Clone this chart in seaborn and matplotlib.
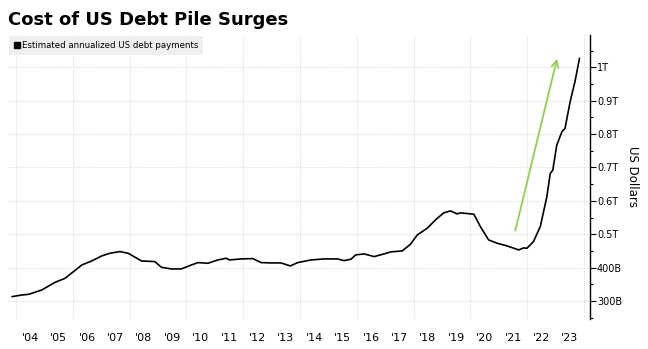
import matplotlib
matplotlib.use("Agg")
import matplotlib.pyplot as plt
from matplotlib.lines import Line2D
from matplotlib.ticker import FixedLocator, FuncFormatter, MultipleLocator
import seaborn as sns
import pandas as pd

# ---- data (decimal year, billions of US dollars) ----
years = [2003.86, 2004.21, 2004.45, 2004.91, 2005.38, 2005.73, 2006.32, 2006.67,
         2007.02, 2007.31, 2007.66, 2007.95, 2008.42, 2008.89, 2009.12, 2009.47,
         2009.82, 2010.18, 2010.41, 2010.76, 2011.11, 2011.40, 2011.52, 2011.93,
         2012.34, 2012.63, 2012.98, 2013.33, 2013.66, 2013.92, 2014.39, 2014.85,
         2015.32, 2015.55, 2015.79, 2015.96, 2016.26, 2016.61, 2016.96, 2017.19,
         2017.60, 2017.89, 2018.13, 2018.48, 2018.77, 2019.06, 2019.30, 2019.53,
         2019.65, 2020.12, 2020.35, 2020.64, 2020.94, 2021.29, 2021.70, 2021.87,
         2021.99, 2022.22, 2022.46, 2022.69, 2022.81, 2022.90, 2023.04, 2023.22,
         2023.33, 2023.51, 2023.68, 2023.84]
payments = [313, 318, 320, 333, 356, 368, 408, 420,
            435, 443, 448, 443, 420, 418, 401, 396,
            396, 408, 415, 413, 423, 428, 423, 426,
            427, 415, 414, 414, 405, 415, 423, 426,
            426, 421, 425, 438, 441, 433, 441, 447,
            450, 470, 498, 518, 543, 564, 570, 561,
            564, 560, 523, 483, 473, 465, 453, 459,
            458, 478, 523, 612, 682, 692, 767, 807,
            817, 897, 957, 1027]

year_labels = ["'04", "'05", "'06", "'07", "'08", "'09", "'10", "'11", "'12",
               "'13", "'14", "'15", "'16", "'17", "'18", "'19", "'20", "'21",
               "'22", "'23"]
label_years = list(range(2004, 2024))
y_ticks = [300, 400, 500, 600, 700, 800, 900, 1000]

title = "Cost of US Debt Pile Surges"
series_name = "Estimated annualized US debt payments"
y_title = "US Dollars"

arrow_tail = (2021.58, 511)
arrow_head = (2023.05, 1026)

df = pd.DataFrame({"year": years, "payments": payments})

sns.set_style("white")
plt.rcParams["font.family"] = ["DejaVu Sans"]
for k in ["text.color", "axes.labelcolor", "xtick.color", "ytick.color"]:
    plt.rcParams[k] = "black"

fig = plt.figure(figsize=(6.48, 3.49), dpi=100)
ax = fig.add_axes([8 / 648, 1 - 319 / 349, (590 - 8) / 648, (319 - 35) / 349])

sns.lineplot(data=df, x="year", y="payments", ax=ax, color="black",
             linewidth=1.2, legend=False)

ax.set_xlim(2003.72, 2024.21)
ax.set_ylim(246, 1097)

# y axis on the right
ax.yaxis.tick_right()
ax.yaxis.set_label_position("right")
ax.yaxis.set_major_locator(FixedLocator(y_ticks))
ax.yaxis.set_minor_locator(MultipleLocator(50))
ax.yaxis.set_major_formatter(FuncFormatter(
    lambda v, p: f"{int(v)}B" if v < 500 else f"{v / 1000:g}T"))
ax.tick_params(axis="y", which="major", direction="out", length=4, width=0.8,
               labelsize=7, pad=1, right=True, left=False, color="black")
ax.tick_params(axis="y", which="minor", direction="out", length=2.5, width=0.8,
               right=True, left=False, color="black")
ax.set_ylabel(y_title, rotation=270, labelpad=12, fontsize=8.5)

# x axis: labels at mid-year, grid at even years
ax.xaxis.set_major_locator(FixedLocator([y + 0.5 for y in label_years]))
ax.set_xticklabels(year_labels)
ax.xaxis.set_minor_locator(FixedLocator(list(range(2004, 2025, 2))))
ax.tick_params(axis="x", which="both", length=0, labelsize=8, pad=10)
ax.set_xlabel("")

ax.grid(False)
ax.grid(True, axis="x", which="minor", linestyle=(0, (1, 1.5)), color="#cfcfcf",
        linewidth=0.6)
ax.grid(True, axis="y", which="major", linestyle=(0, (1, 1.5)), color="#cfcfcf",
        linewidth=0.6)

for s in ["left", "top", "bottom"]:
    ax.spines[s].set_visible(False)
ax.spines["right"].set_color("black")
ax.spines["right"].set_linewidth(1.0)

# arrow annotation
ax.annotate("", xy=arrow_head, xytext=arrow_tail,
            arrowprops=dict(arrowstyle="->", color="#8fd14f", lw=1.3,
                            mutation_scale=12, shrinkA=0, shrinkB=0))

# legend
handle = Line2D([], [], marker="s", linestyle="none", color="black",
                markersize=4.5)
leg = ax.legend([handle], [series_name], loc="upper left",
                bbox_to_anchor=(0.0, 1.0), fontsize=6.2, frameon=True,
                facecolor="#efefef", edgecolor="none", fancybox=False,
                handlelength=0.6, handletextpad=0.3, borderpad=0.55,
                borderaxespad=0.15)
leg.get_frame().set_alpha(1)

fig.text(8 / 648, 1 - 20 / 349, title, fontsize=13, fontweight="bold",
         family=["DejaVu Sans"], va="center", ha="left", color="black")

fig.savefig("out.png", dpi=100)
